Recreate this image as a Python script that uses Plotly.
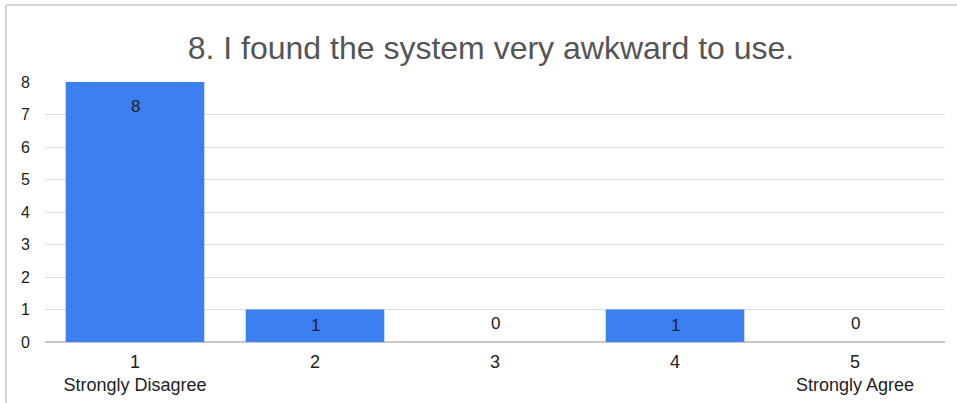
import plotly.graph_objects as go

# Survey answers for question 8
categories = ["1<br>Strongly Disagree", "2", "3", "4", "5<br>Strongly Agree"]
counts = [8, 1, 0, 1, 0]
y_ticks = [0, 1, 2, 3, 4, 5, 6, 7, 8]

fig = go.Figure()
fig.add_trace(go.Bar(
    x=categories,
    y=counts,
    marker=dict(color="#3b7ff0", line=dict(width=0)),
    width=0.77,
    hoverinfo="x+y",
))

# value labels: near the top of tall bars, centred in short ones, above empty ones
for i, c in enumerate(counts):
    if c > 1:
        pos = dict(y=c, yanchor="top", yshift=-13)
    elif c == 1:
        pos = dict(y=c / 2, yanchor="middle", yshift=0)
    else:
        pos = dict(y=0, yanchor="bottom", yshift=7)
    fig.add_annotation(x=i, text=str(c), showarrow=False,
                       font=dict(size=17, color="#222222"), **pos)

# light card frame on the left and top
fig.add_shape(type="line", xref="paper", yref="paper",
              x0=-0.0433, x1=-0.0433, y0=-0.25, y1=1.296,
              line=dict(color="#d4d4d4", width=2))
fig.add_shape(type="line", xref="paper", yref="paper",
              x0=-0.0433, x1=1.02, y0=1.296, y1=1.296,
              line=dict(color="#d4d4d4", width=2))

fig.update_layout(
    width=957,
    height=403,
    margin=dict(l=45, r=12, t=82, b=61),
    paper_bgcolor="white",
    plot_bgcolor="white",
    font=dict(family="Liberation Sans, Arial, sans-serif", color="#222222"),
    title=dict(
        text="8. I found the system very awkward to use.",
        x=0.513, xanchor="center", y=0.881, yanchor="middle",
        font=dict(size=32, color="#555555"),
    ),
    showlegend=False,
    xaxis=dict(
        tickfont=dict(size=18, color="#222222"),
        showgrid=False,
        showline=False,
        ticks="",
        ticklabelstandoff=7,
        automargin=False,
    ),
    yaxis=dict(
        range=[0, 8],
        tickvals=y_ticks,
        tickfont=dict(size=16, color="#222222"),
        gridcolor="#dcdcdc",
        gridwidth=1,
        zeroline=True,
        zerolinecolor="#c8c8c8",
        zerolinewidth=2,
        ticklabelstandoff=14,
        showline=False,
        ticks="",
        automargin=False,
    ),
)

fig.write_html("out.html", config={"displayModeBar": False},
               post_script="document.body.style.margin='0';")
